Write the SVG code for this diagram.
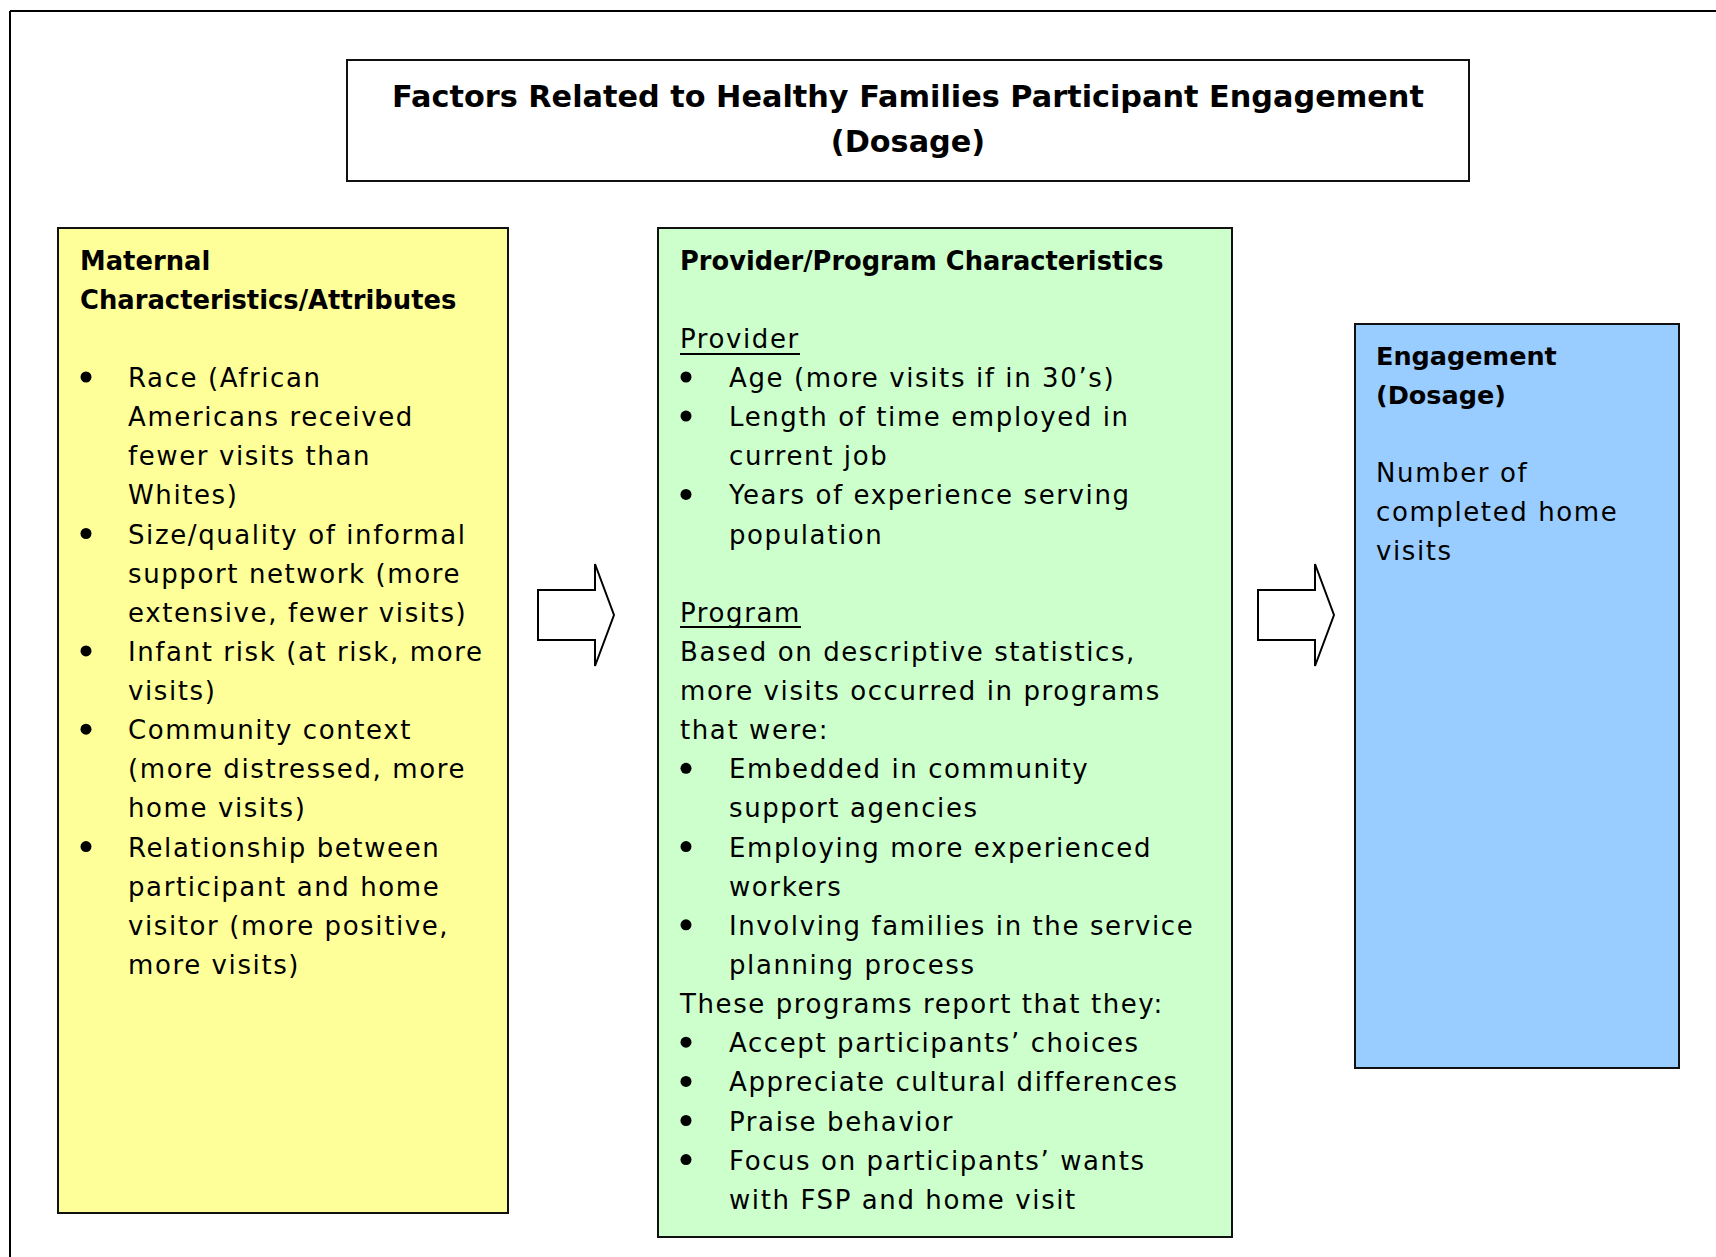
<svg xmlns="http://www.w3.org/2000/svg" width="1716" height="1257" viewBox="0 0 1716 1257">
<style>
.box{stroke:#111;stroke-width:2}
.t{font-family:"DejaVu Sans",sans-serif;font-size:26px;letter-spacing:1.6px;fill:#000}
.h{font-family:"DejaVu Sans",sans-serif;font-weight:bold;font-size:25.5px;fill:#000}
.title{font-family:"DejaVu Sans",sans-serif;font-weight:bold;font-size:30.3px;fill:#000;text-anchor:middle}
.ul{stroke:#000;stroke-width:2}
.arrow{fill:#fff;stroke:#000;stroke-width:2;stroke-linejoin:miter}
</style>
<defs>
<circle id="b" r="5.5" fill="#000"/>
<polygon id="blk" points="0,25 57,25 57,-1 76,50 57,101 57,75 0,75"/>
</defs>
<rect width="1716" height="1257" fill="#fff"/>
<g id="frame">
<line x1="10" y1="11" x2="1716" y2="11" stroke="#000" stroke-width="2"/>
<line x1="10" y1="11" x2="10" y2="1257" stroke="#000" stroke-width="2"/>
</g>
<g id="title">
<rect class="box" x="347" y="60" width="1122" height="121" fill="#fff"/>
<text class="title" x="908" y="107">Factors Related to Healthy Families Participant Engagement</text>
<text class="title" x="908" y="152">(Dosage)</text>
</g>
<g id="maternal">
<rect class="box" x="58" y="228" width="450" height="985" fill="#FFFF99"/>
<text class="h" x="80" y="270" style="font-size:25.8px">Maternal</text>
<text class="h" x="80" y="309" style="font-size:25.8px">Characteristics/Attributes</text>
<use href="#b" x="86" y="377"/>
<use href="#b" x="86" y="533.5"/>
<use href="#b" x="86" y="650.9"/>
<use href="#b" x="86" y="729.2"/>
<use href="#b" x="86" y="846.6"/>
<text class="t" x="128" y="387">Race (African</text>
<text class="t" x="128" y="426.1">Americans received</text>
<text class="t" x="128" y="465.3">fewer visits than</text>
<text class="t" x="128" y="504.4">Whites)</text>
<text class="t" x="128" y="543.5">Size/quality of informal</text>
<text class="t" x="128" y="582.7">support network (more</text>
<text class="t" x="128" y="621.8">extensive, fewer visits)</text>
<text class="t" x="128" y="660.9">Infant risk (at risk, more</text>
<text class="t" x="128" y="700">visits)</text>
<text class="t" x="128" y="739.2">Community context</text>
<text class="t" x="128" y="778.3">(more distressed, more</text>
<text class="t" x="128" y="817.4">home visits)</text>
<text class="t" x="128" y="856.6">Relationship between</text>
<text class="t" x="128" y="895.7">participant and home</text>
<text class="t" x="128" y="934.8">visitor (more positive,</text>
<text class="t" x="128" y="974">more visits)</text>
</g>
<g id="provider">
<rect class="box" x="658" y="228" width="574" height="1009" fill="#CCFFCC"/>
<text class="h" x="680" y="270" style="font-size:25.7px">Provider/Program Characteristics</text>
<text class="t" x="680" y="347.9">Provider</text>
<line class="ul" x1="680" y1="354" x2="800" y2="354"/>
<use href="#b" x="686" y="377"/>
<use href="#b" x="686" y="416.1"/>
<use href="#b" x="686" y="494.4"/>
<text class="t" x="729" y="387">Age (more visits if in 30’s)</text>
<text class="t" x="729" y="426.1">Length of time employed in</text>
<text class="t" x="729" y="465.3">current job</text>
<text class="t" x="729" y="504.4">Years of experience serving</text>
<text class="t" x="729" y="543.5">population</text>
<text class="t" x="680" y="621.8">Program</text>
<line class="ul" x1="680" y1="627" x2="801" y2="627"/>
<text class="t" x="680" y="660.9">Based on descriptive statistics,</text>
<text class="t" x="680" y="700">more visits occurred in programs</text>
<text class="t" x="680" y="739.2">that were:</text>
<use href="#b" x="686" y="768.3"/>
<use href="#b" x="686" y="846.6"/>
<use href="#b" x="686" y="924.8"/>
<text class="t" x="729" y="778.3">Embedded in community</text>
<text class="t" x="729" y="817.4">support agencies</text>
<text class="t" x="729" y="856.6">Employing more experienced</text>
<text class="t" x="729" y="895.7">workers</text>
<text class="t" x="729" y="934.8">Involving families in the service</text>
<text class="t" x="729" y="974">planning process</text>
<text class="t" x="680" y="1013.1">These programs report that they:</text>
<use href="#b" x="686" y="1042.2"/>
<use href="#b" x="686" y="1081.4"/>
<use href="#b" x="686" y="1120.5"/>
<use href="#b" x="686" y="1159.6"/>
<text class="t" x="729" y="1052.2">Accept participants’ choices</text>
<text class="t" x="729" y="1091.4">Appreciate cultural differences</text>
<text class="t" x="729" y="1130.5">Praise behavior</text>
<text class="t" x="729" y="1169.6">Focus on participants’ wants</text>
<text class="t" x="729" y="1208.7">with FSP and home visit</text>
</g>
<g id="engagement">
<rect class="box" x="1355" y="324" width="324" height="744" fill="#99CCFF"/>
<text class="h" x="1376" y="365">Engagement</text>
<text class="h" x="1376" y="404">(Dosage)</text>
<text class="t" x="1376" y="482">Number of</text>
<text class="t" x="1376" y="521">completed home</text>
<text class="t" x="1376" y="560">visits</text>
</g>
<g id="connectors">
<use href="#blk" class="arrow" x="538" y="565"/>
<use href="#blk" class="arrow" x="1258" y="565"/>
</g>
</svg>
